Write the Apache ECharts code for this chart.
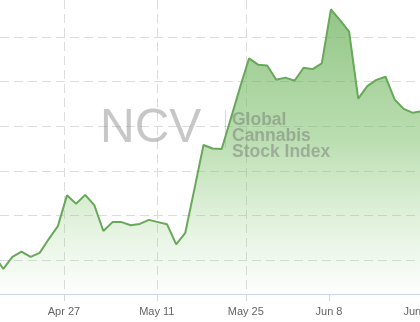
<!DOCTYPE html>
<html>
<head>
<meta charset="utf-8">
<script src="https://cdn.jsdelivr.net/npm/echarts@6/dist/echarts.min.js"></script>
<style>
html,body{margin:0;padding:0;background:#fff;}
#chart{width:420px;height:322px;}
</style>
</head>
<body>
<div id="chart"></div>
<script>
// Trading-day index of the first value (the view is cropped on the left)
const firstDayIndex = -1;
// Index level per trading day (arbitrary units; gridlines every 10)
const indexValues = [
  11.1, 8.0, 10.7, 11.9, 10.7, 11.6, 14.7, 17.6, 24.5, 22.6,
  24.6, 22.3, 16.5, 18.5, 18.5, 17.8, 18.1, 19.0, 18.5, 18.0,
  13.5, 16.1, 25.9, 35.8, 35.0, 34.9, 41.7, 48.6, 55.2, 53.8,
  53.6, 50.4, 50.9, 50.2, 53.1, 52.8, 54.1, 66.2, 63.8, 61.2,
  46.2, 49.0, 50.4, 51.1, 46.0, 43.9, 43.0, 43.4
];
// Date tick labels and their positions on the trading-day scale
const tickLabels = ['Apr 27', 'May 11', 'May 25', 'Jun 8', 'Jun 22'];
const tickPositions = [6.67, 16.87, 26.65, 35.79, 45.79];
// Horizontal gridline values
const yGridValues = [10, 20, 30, 40, 50, 60];
// Visible window
const xRange = [-0.36, 45.79];
const yRange = [2.38, 68.3];

const seriesData = indexValues.map((v, i) => [firstDayIndex + i, v]);

const chart = echarts.init(document.getElementById('chart'), null, {renderer: 'canvas'});
const dashed = {color: '#dcdcdc', width: 1, type: [9, 5]};

chart.setOption({
  animation: false,
  backgroundColor: '#ffffff',
  grid: {left: 0, right: 0, top: 0, bottom: 28, containLabel: false, outerBoundsMode: 'none'},
  xAxis: {
    type: 'value',
    min: xRange[0],
    max: xRange[1],
    axisLine: {show: true, lineStyle: {color: '#ccd6eb', width: 1}},
    axisTick: {show: true, length: 7, customValues: tickPositions.slice(0, 4), lineStyle: {color: '#d6d6d6'}},
    axisLabel: {
      show: true,
      customValues: tickPositions,
      margin: 12,
      color: '#666666',
      fontSize: 11,
      fontFamily: 'Liberation Sans, Arial, sans-serif',
      showMinLabel: true,
      showMaxLabel: true,
      hideOverlap: false,
      formatter: function (val) {
        for (let k = 0; k < tickPositions.length; k++) {
          if (Math.abs(tickPositions[k] - val) < 1e-6) return tickLabels[k];
        }
        return '';
      }
    },
    splitLine: {show: true, showMaxLine: false, lineStyle: dashed}
  },
  yAxis: {
    type: 'value',
    min: yRange[0],
    max: yRange[1],
    axisLine: {show: false},
    axisTick: {show: false, customValues: yGridValues},
    axisLabel: {show: false, customValues: yGridValues},
    splitLine: {show: true, lineStyle: dashed}
  },
  series: [{
    type: 'line',
    data: seriesData,
    showSymbol: false,
    symbol: 'none',
    clip: true,
    lineStyle: {color: '#68a85a', width: 2},
    areaStyle: {
      origin: 'start',
      color: new echarts.graphic.LinearGradient(0, 0, 0, 1, [
        {offset: 0, color: 'rgba(96,170,78,0.97)'},
        {offset: 0.45, color: 'rgba(118,188,98,0.72)'},
        {offset: 1, color: 'rgba(150,210,130,0.03)'}
      ])
    }
  }],
  graphic: [
    {
      type: 'text', z: 100,
      style: {
        text: 'NCV', x: 100, y: 129,
        font: 'normal 48px "Liberation Sans", Arial, sans-serif',
        fill: 'rgba(130,130,130,0.45)',
        textAlign: 'left', verticalAlign: 'middle'
      }
    },
    {
      type: 'line', z: 100,
      shape: {x1: 225.5, y1: 110, x2: 225.5, y2: 148},
      style: {stroke: 'rgba(150,150,150,0.35)', lineWidth: 1}
    },
    {
      type: 'text', z: 100,
      style: {
        text: 'Global\nCannabis\nStock Index', x: 232, y: 136,
        font: 'bold 17.5px "Liberation Sans", Arial, sans-serif',
        lineHeight: 16,
        fill: 'rgba(110,110,110,0.45)',
        textAlign: 'left', verticalAlign: 'middle'
      }
    }
  ]
});
</script>
</body>
</html>
